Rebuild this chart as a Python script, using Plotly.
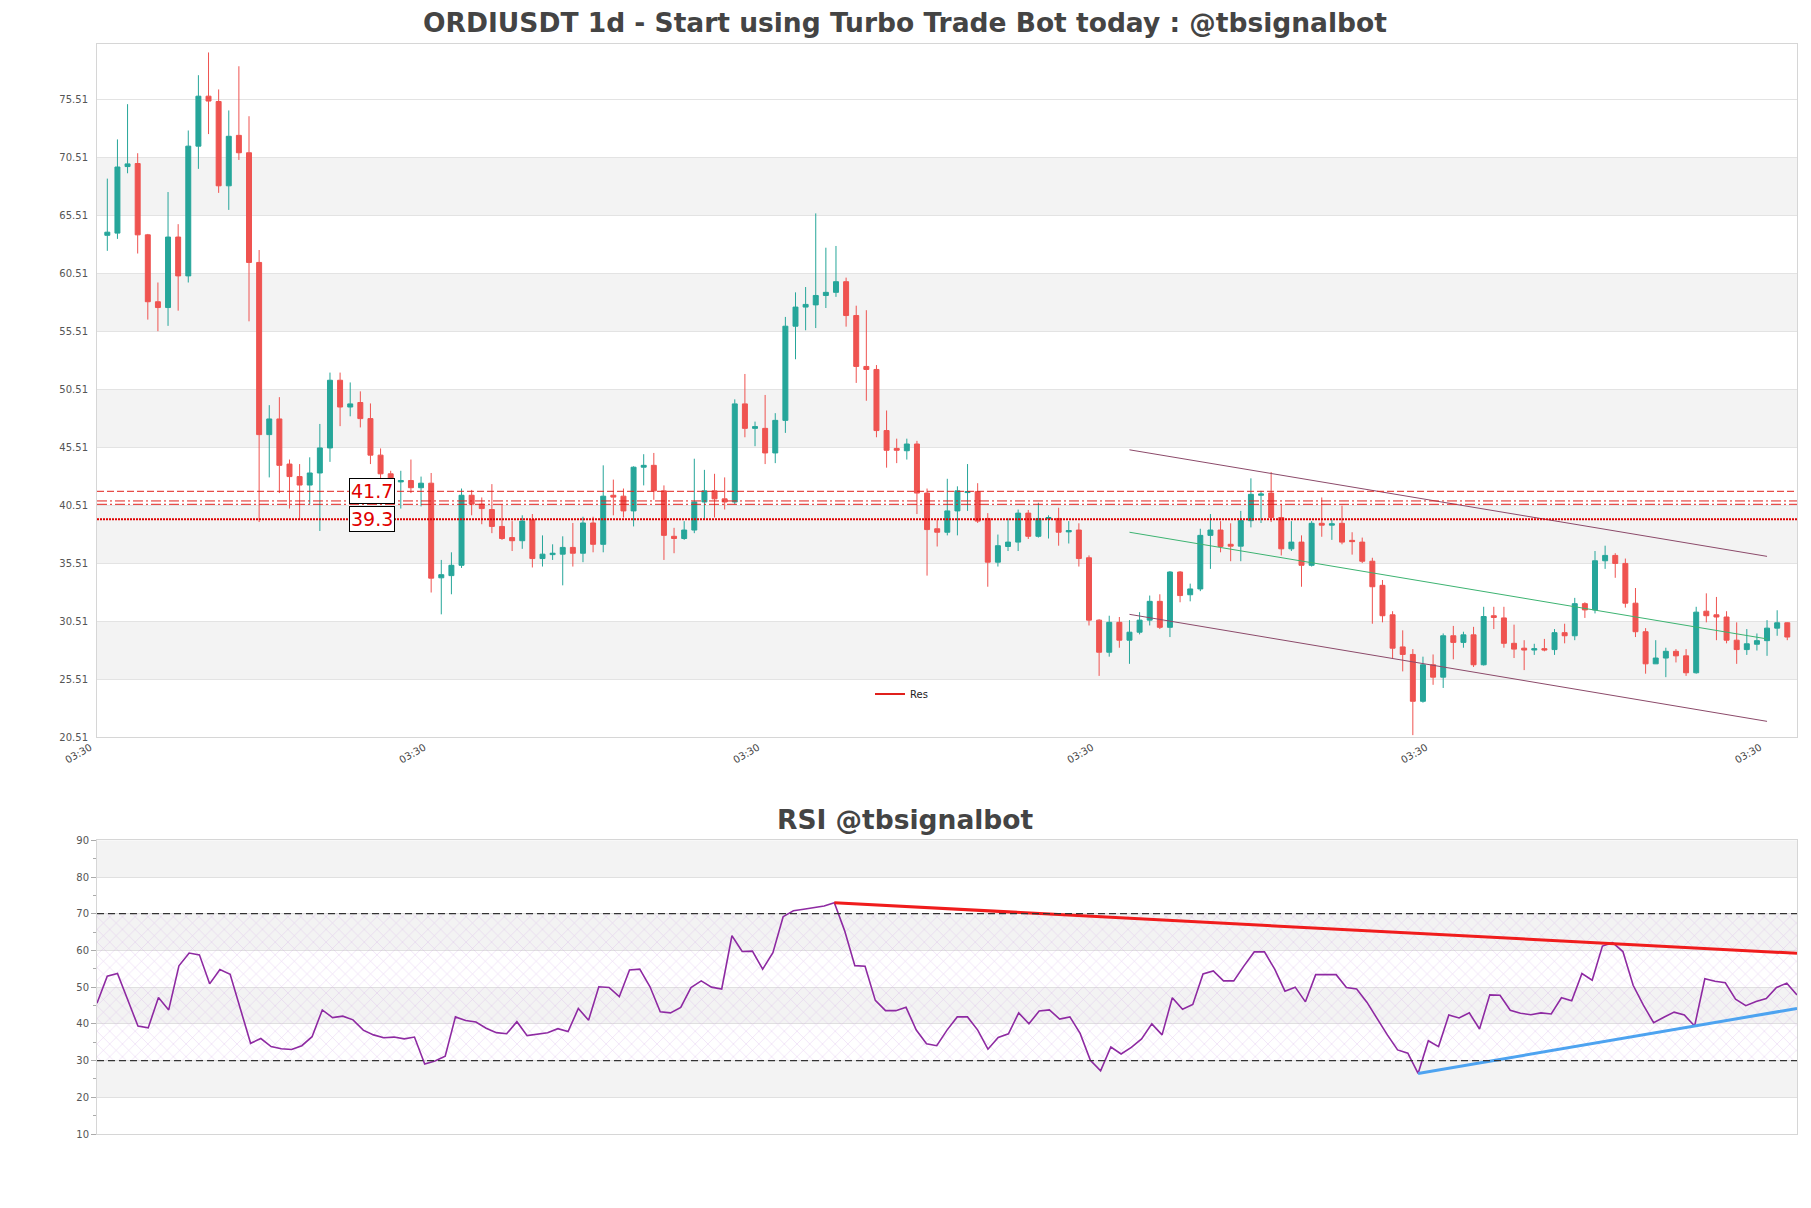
import plotly.graph_objects as go

# ---------------- data ----------------
opens = [63.78, 63.97, 69.71, 69.97, 63.82, 58.05, 57.55, 63.63, 60.28, 71.47,
         75.78, 75.32, 68.05, 72.40, 70.90, 61.44, 46.59, 47.94, 44.05, 42.97,
         42.24, 43.28, 45.44, 51.28, 48.97, 49.36, 47.97, 44.82, 43.21, 42.51,
         42.63, 42.01, 42.40, 34.24, 34.43, 35.32, 41.36, 40.59, 40.13, 38.67,
         37.71, 37.44, 39.24, 35.90, 36.24, 36.28, 36.86, 36.36, 38.97, 37.13,
         41.36, 41.28, 40.01, 43.78, 43.94, 41.74, 37.82, 37.63, 38.36, 40.78,
         41.74, 41.05, 40.78, 49.24, 47.13, 47.13, 45.01, 47.82, 55.94, 57.59,
         57.78, 58.59, 58.86, 59.78, 56.86, 52.47, 52.21, 46.94, 45.40, 45.20,
         45.78, 41.55, 38.47, 38.17, 40.01, 41.59, 41.67, 39.36, 35.59, 36.94,
         37.32, 39.82, 37.82, 39.32, 39.36, 38.20, 38.36, 35.97, 30.59, 27.82,
         30.40, 28.86, 29.55, 30.59, 32.21, 29.97, 34.74, 32.78, 33.28, 37.90,
         38.36, 37.13, 36.97, 39.17, 41.36, 41.55, 39.44, 36.74, 37.32, 35.32,
         38.94, 38.78, 38.94, 37.47, 37.32, 35.67, 33.59, 31.05, 28.28, 27.63,
         23.59, 26.74, 25.67, 29.24, 28.67, 29.32, 26.74, 30.97, 30.78, 28.59,
         28.17, 28.01, 28.13, 28.05, 29.51, 29.24, 32.01, 31.47, 35.71, 36.17,
         35.48, 32.05, 29.59, 26.82, 27.32, 27.90, 27.51, 26.05, 31.36, 31.05,
         30.86, 28.86, 28.05, 28.51, 28.82, 29.90, 30.36]
highs = [68.67, 72.05, 75.09, 70.86, 63.90, 59.71, 67.51, 64.74, 72.82, 77.59,
         79.55, 76.36, 74.55, 78.36, 74.05, 62.51, 49.13, 49.82, 44.44, 44.05,
         44.63, 47.51, 51.94, 51.94, 51.09, 50.32, 49.28, 45.40, 43.47, 43.47,
         44.44, 42.97, 43.28, 35.78, 36.44, 41.94, 41.82, 41.17, 42.32, 40.59,
         39.13, 39.63, 39.74, 37.90, 37.13, 37.82, 38.97, 39.51, 39.51, 43.94,
         42.71, 41.94, 43.86, 44.90, 45.01, 42.21, 38.55, 39.13, 44.51, 43.55,
         43.21, 42.90, 49.63, 51.82, 47.71, 50.01, 48.44, 56.74, 58.86, 59.32,
         65.67, 62.71, 62.86, 60.13, 57.71, 57.32, 52.59, 48.67, 46.24, 46.24,
         46.05, 41.94, 39.24, 42.78, 42.13, 44.05, 42.40, 39.82, 37.97, 39.36,
         40.13, 40.09, 40.71, 39.63, 40.28, 39.13, 38.94, 36.17, 30.67, 30.97,
         30.86, 30.59, 31.28, 32.71, 32.82, 34.82, 34.82, 33.74, 38.47, 39.74,
         39.13, 38.94, 40.01, 42.82, 41.74, 43.36, 40.59, 39.13, 37.90, 39.13,
         41.17, 39.24, 40.47, 38.17, 37.71, 35.97, 34.05, 31.36, 29.71, 28.09,
         27.44, 27.63, 29.44, 30.09, 29.59, 30.01, 31.74, 31.74, 31.74, 30.20,
         28.86, 28.55, 28.97, 29.82, 30.28, 32.51, 32.13, 36.55, 37.01, 36.36,
         35.90, 33.36, 29.90, 28.86, 28.21, 28.09, 28.09, 31.74, 32.90, 32.59,
         31.36, 30.40, 29.82, 29.44, 30.59, 31.44, 30.40]
lows = [62.44, 63.47, 69.13, 62.21, 56.51, 55.51, 55.97, 57.28, 59.71, 69.51,
        72.51, 67.44, 65.97, 70.28, 56.36, 39.05, 42.90, 41.55, 40.21, 39.24,
        40.59, 38.28, 44.24, 47.32, 48.17, 47.21, 44.05, 42.71, 42.51, 40.21,
        41.55, 40.40, 32.97, 31.09, 32.82, 35.09, 39.63, 38.86, 38.09, 37.51,
        36.55, 36.74, 35.13, 35.21, 35.78, 33.59, 35.21, 35.59, 36.44, 36.44,
        39.63, 39.44, 38.67, 42.21, 40.97, 35.78, 36.36, 37.51, 38.09, 39.24,
        39.44, 40.13, 40.59, 46.36, 45.59, 44.05, 44.13, 46.74, 53.09, 55.59,
        55.78, 57.51, 58.47, 55.90, 51.05, 49.51, 46.36, 43.74, 44.13, 44.44,
        39.74, 34.43, 36.94, 37.90, 37.90, 40.01, 38.97, 33.47, 35.21, 36.55,
        36.55, 37.59, 37.71, 37.63, 37.01, 37.20, 35.21, 30.13, 25.78, 27.44,
        28.21, 26.82, 29.36, 30.13, 29.82, 29.13, 32.13, 32.21, 33.09, 35.01,
        36.44, 35.67, 35.67, 38.59, 38.97, 39.05, 36.17, 36.55, 33.47, 35.21,
        37.78, 37.51, 37.13, 36.24, 35.51, 30.28, 30.40, 27.32, 26.17, 20.67,
        23.47, 25.01, 24.74, 27.21, 28.21, 26.55, 26.67, 29.82, 28.21, 27.32,
        26.28, 27.59, 27.90, 27.59, 28.59, 28.86, 30.78, 31.17, 35.01, 34.24,
        31.67, 29.13, 25.97, 26.82, 25.67, 26.94, 25.78, 25.97, 30.40, 28.86,
        28.59, 26.82, 27.59, 27.97, 27.51, 29.24, 28.86]
closes = [64.05, 69.67, 69.94, 63.82, 58.05, 57.55, 63.63, 60.28, 71.47, 75.78,
          75.36, 68.05, 72.32, 70.90, 61.44, 46.59, 47.94, 43.94, 42.97, 42.24,
          43.28, 45.44, 51.28, 48.97, 49.24, 47.97, 44.82, 43.21, 42.71, 42.63,
          42.01, 42.40, 34.21, 34.51, 35.32, 41.36, 40.59, 40.21, 38.67, 37.63,
          37.44, 39.13, 35.90, 36.28, 36.36, 36.86, 36.36, 38.97, 37.13, 41.28,
          41.20, 40.01, 43.78, 43.94, 41.74, 37.90, 37.63, 38.36, 40.78, 41.74,
          41.05, 40.78, 49.24, 47.13, 47.28, 45.01, 47.82, 55.94, 57.59, 57.82,
          58.59, 58.86, 59.78, 56.86, 52.47, 52.21, 46.94, 45.24, 45.24, 45.78,
          41.55, 38.40, 38.17, 40.01, 41.74, 41.67, 39.13, 35.59, 37.01, 37.32,
          39.82, 37.82, 39.36, 39.44, 38.17, 38.32, 35.90, 30.59, 27.82, 30.40,
          28.86, 29.55, 30.59, 32.21, 29.97, 34.74, 32.71, 33.28, 37.90, 38.36,
          36.94, 36.97, 39.17, 41.44, 41.47, 39.44, 36.74, 37.32, 35.32, 38.94,
          38.78, 38.90, 37.32, 37.36, 35.67, 33.47, 30.97, 28.17, 27.63, 23.59,
          26.74, 25.67, 29.24, 28.67, 29.32, 26.74, 30.90, 30.82, 28.59, 28.09,
          28.01, 28.13, 28.01, 29.51, 29.24, 32.01, 31.47, 35.71, 36.17, 35.48,
          32.05, 29.59, 26.82, 27.32, 27.90, 27.51, 26.05, 31.28, 30.97, 30.86,
          28.86, 28.05, 28.55, 28.82, 29.90, 30.36, 29.13]

rsi = [45.6, 53.0, 53.7, 46.5, 39.4, 38.9, 47.2, 43.8, 55.8, 59.3,
       58.8, 50.9, 54.8, 53.5, 43.95, 34.7, 36.0, 33.8, 33.2, 33.0,
       34.05, 36.5, 43.8, 41.7, 42.1, 41.1, 38.3, 37.0, 36.2, 36.4,
       35.9, 36.4, 29.05, 29.9, 31.2, 41.9, 40.9, 40.5, 38.8, 37.6,
       37.3, 40.6, 36.8, 37.2, 37.6, 38.7, 37.9, 44.2, 41.0, 50.1,
       49.9, 47.4, 54.7, 54.9, 50.1, 43.3, 43.0, 44.5, 49.9, 51.7,
       50.0, 49.5, 64.0, 59.7, 59.8, 54.9, 59.4, 69.2, 70.8, 71.2,
       71.7, 72.1, 73.0, 65.4, 55.85, 55.7, 46.4, 43.6, 43.6, 44.5,
       38.3, 34.6, 34.05, 38.3, 41.9, 41.9, 38.3, 33.1, 36.3, 37.3,
       43.0, 40.0, 43.5, 43.8, 41.3, 41.9, 37.4, 30.1, 27.2, 33.7,
       31.8, 33.6, 35.9, 40.0, 37.0, 47.1, 44.0, 45.3, 53.6, 54.4,
       51.7, 51.7, 55.8, 59.6, 59.6, 54.9, 48.9, 50.0, 46.0, 53.4,
       53.4, 53.4, 49.9, 49.5, 45.9, 41.4, 37.0, 32.9, 32.0, 26.5,
       35.4, 33.8, 42.4, 41.6, 43.0, 38.6, 47.9, 47.8, 43.7, 42.9,
       42.5, 43.0, 42.7, 47.1, 46.3, 53.7, 51.9, 61.2, 62.1, 59.7,
       50.5, 45.1, 40.3, 41.8, 43.2, 42.4, 39.4, 52.3, 51.6, 51.2,
       46.7, 44.95, 46.1, 46.9, 49.9, 51.1, 47.9]

idx = list(range(len(closes)))

res_dashed = 41.7
res_pattern = [40.87, 40.58]
res_dotted = 39.3
res_labels = ["41.7", "39.3"]
res_label_vals = [41.7, 39.3]
res_label_x = 26.2

channel_x = [101, 164]
channel_upper = [45.28, 36.09]
channel_mid = [38.17, 28.97]
channel_lower = [31.09, 21.86]

rsi_res_x = [72, 166]
rsi_res_y = [73.0, 59.2]
rsi_sup_x = [129, 166]
rsi_sup_y = [26.5, 44.2]

price_ticks = [20.51 + 5 * k for k in range(12)]
price_ticktext = ["%.2f" % v for v in price_ticks]
rsi_ticks = [10, 20, 30, 40, 50, 60, 70, 80, 90]
x_tick_pos = [-1, 32, 65, 98, 131, 164]
x_tick_text = ["03:30"] * 6

# ---------------- figure ----------------
FONT = "DejaVu Sans"
W, H = 1811, 1208
xdom = [97 / W, 1797 / W]
ydom_main = [1 - 737 / H, 1 - 44 / H]
ydom_rsi = [1 - 1134 / H, 1 - 840.3 / H]

GREEN = "#26a69a"
RED = "#ef5350"

fig = go.Figure()

# RSI hatched zone 30-70
fig.add_trace(go.Scatter(
    x=[idx[0], idx[-1], idx[-1], idx[0], idx[0]], y=[30, 30, 70, 70, 30],
    xaxis="x2", yaxis="y2", mode="lines", fill="toself",
    fillcolor="rgba(0,0,0,0)", line=dict(width=0),
    fillpattern=dict(shape="x", fgcolor="rgba(200,150,225,0.85)", bgcolor="rgba(0,0,0,0)",
                     size=9, solidity=0.12),
    hoverinfo="skip", showlegend=False))

fig.add_trace(go.Candlestick(
    x=idx, open=opens, high=highs, low=lows, close=closes,
    increasing=dict(line=dict(color=GREEN, width=1), fillcolor=GREEN),
    decreasing=dict(line=dict(color=RED, width=1), fillcolor=RED),
    whiskerwidth=0, showlegend=False, xaxis="x", yaxis="y"))

# channel lines
fig.add_trace(go.Scatter(x=channel_x, y=channel_upper, mode="lines",
                         line=dict(color="#8c4a6a", width=1), showlegend=False))
fig.add_trace(go.Scatter(x=channel_x, y=channel_lower, mode="lines",
                         line=dict(color="#8c4a6a", width=1), showlegend=False))
fig.add_trace(go.Scatter(x=channel_x, y=channel_mid, mode="lines",
                         line=dict(color="#3cb371", width=1), showlegend=False))

# legend entry
fig.add_trace(go.Scatter(x=[None], y=[None], mode="lines", name="Res",
                         line=dict(color="#e0201c", width=2), showlegend=True))

# RSI line and trendlines
fig.add_trace(go.Scatter(x=idx, y=rsi, mode="lines", xaxis="x2", yaxis="y2",
                         line=dict(color="#8e2aa2", width=1.6), showlegend=False))
fig.add_trace(go.Scatter(x=rsi_res_x, y=rsi_res_y, mode="lines", xaxis="x2", yaxis="y2",
                         line=dict(color="#f01c1c", width=3), showlegend=False))
fig.add_trace(go.Scatter(x=rsi_sup_x, y=rsi_sup_y, mode="lines", xaxis="x2", yaxis="y2",
                         line=dict(color="#4da3f0", width=3), showlegend=False))

shapes = []
# main chart bands
for k in range(1, len(price_ticks) - 1, 2):
    shapes.append(dict(type="rect", xref="x domain", yref="y", x0=0, x1=1,
                       y0=price_ticks[k], y1=price_ticks[k + 1],
                       fillcolor="#f3f3f3", line=dict(width=0), layer="below"))
# RSI bands
for lo in [20, 40, 60, 80]:
    shapes.append(dict(type="rect", xref="x2 domain", yref="y2", x0=0, x1=1,
                       y0=lo, y1=lo + 10, fillcolor="#f3f3f3", line=dict(width=0), layer="below"))
# RSI 30 / 70 dashed
for lv in [30, 70]:
    shapes.append(dict(type="line", xref="x2 domain", yref="y2", x0=0, x1=1, y0=lv, y1=lv,
                       line=dict(color="#333333", width=1.2, dash="7px,4px")))
# resistance lines
shapes.append(dict(type="line", xref="x domain", yref="y", x0=0, x1=1, y0=res_dashed, y1=res_dashed,
                   line=dict(color="#e0201c", width=1, dash="7px,3px")))
for lv in res_pattern:
    shapes.append(dict(type="line", xref="x domain", yref="y", x0=0, x1=1, y0=lv, y1=lv,
                       line=dict(color="#e0201c", width=1, dash="10px,3px,2px,3px")))
shapes.append(dict(type="line", xref="x domain", yref="y", x0=0, x1=1, y0=res_dotted, y1=res_dotted,
                   line=dict(color="#e00000", width=2, dash="2px,1px")))

annotations = [
    dict(text="<b>ORDIUSDT 1d - Start using Turbo Trade Bot today : @tbsignalbot</b>",
         xref="paper", yref="paper", x=905 / W, y=1 - 22 / H, xanchor="center", yanchor="middle",
         showarrow=False, font=dict(family=FONT, size=26.5, color="#444444")),
    dict(text="<b>RSI @tbsignalbot</b>",
         xref="paper", yref="paper", x=905 / W, y=1 - 819 / H, xanchor="center", yanchor="middle",
         showarrow=False, font=dict(family=FONT, size=26.5, color="#444444")),
]
for t, v in zip(res_labels, res_label_vals):
    annotations.append(dict(text=t, xref="x", yref="y", x=res_label_x, y=v,
                            xanchor="center", yanchor="middle", showarrow=False,
                            font=dict(family=FONT, size=19, color="#e00000"),
                            bgcolor="white", bordercolor="black", borderwidth=1, borderpad=1))

axis_common = dict(showline=True, linecolor="#d6d6d6", linewidth=1, mirror=True,
                   zeroline=False, automargin=False)

fig.update_layout(
    width=W, height=H, autosize=False,
    margin=dict(l=0, r=0, t=0, b=0, pad=0),
    paper_bgcolor="white", plot_bgcolor="white",
    font=dict(family=FONT, size=10, color="#444444"),
    shapes=shapes, annotations=annotations,
    showlegend=True,
    legend=dict(x=870 / W, y=1 - 694 / H, xanchor="left", yanchor="middle",
                bgcolor="rgba(0,0,0,0)", font=dict(family=FONT, size=10, color="#222"),
                itemwidth=30),
    xaxis=dict(domain=xdom, anchor="y", range=[-1.02, 166.96], showgrid=False,
               tickmode="array", tickvals=x_tick_pos, ticktext=x_tick_text, tickangle=-30,
               ticklabelshift=-7,
               tickfont=dict(family=FONT, size=10, color="#444"),
               rangeslider=dict(visible=False), **axis_common),
    yaxis=dict(domain=ydom_main, anchor="x", range=[20.51, 80.28],
               tickmode="array", tickvals=price_ticks, ticktext=price_ticktext,
               showgrid=True, gridcolor="#e3e3e3", ticks="outside", ticklen=6,
               tickcolor="rgba(0,0,0,0)", tickfont=dict(family=FONT, size=10, color="#555"),
               **axis_common),
    xaxis2=dict(domain=xdom, anchor="y2", range=[0, 166], showgrid=False,
                showticklabels=False, **axis_common),
    yaxis2=dict(domain=ydom_rsi, anchor="x2", range=[10, 90],
                tickmode="array", tickvals=rsi_ticks, showgrid=True, gridcolor="#e0e0e0",
                ticks="outside", ticklen=5, tickcolor="#aaaaaa",
                minor=dict(ticks="outside", ticklen=3, tickcolor="#aaaaaa", dtick=5, tick0=15,
                           showgrid=False),
                tickfont=dict(family=FONT, size=10, color="#555"),
                **axis_common),
)

fig.write_html("out.html")
